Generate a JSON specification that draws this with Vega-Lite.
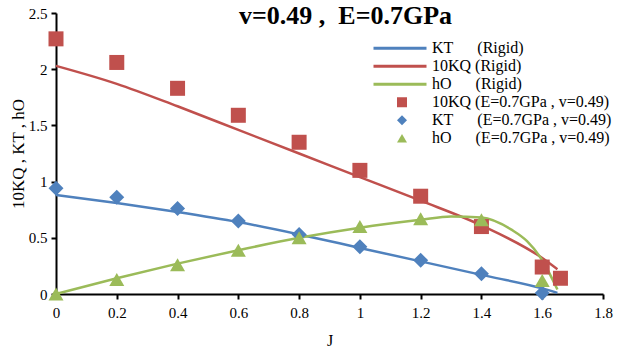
{
  "$schema": "https://vega.github.io/schema/vega-lite/v6.json",
  "width": 547,
  "height": 281,
  "autosize": {"type": "none"},
  "padding": {"left": 56, "top": 13, "right": 16, "bottom": 59},
  "background": "white",
  "config": {
    "font": "Liberation Serif",
    "view": {"stroke": null},
    "axis": {"domainColor": "black", "domainWidth": 2, "tickColor": "black", "tickWidth": 2, "tickSize": 5, "grid": false, "labelFont": "Liberation Serif", "labelFontSize": 15, "labelColor": "black", "titleFont": "Liberation Serif", "titleColor": "black", "titleFontWeight": "normal"},
    "legend": {"labelFont": "Liberation Serif", "labelFontSize": 16, "labelColor": "black", "rowPadding": 1, "padding": 0, "titlePadding": 0, "labelLimit": 400}
  },
  "title": {"text": "v=0.49\u00a0,\u00a0\u00a0E=0.7GPa", "font": "Liberation Serif", "fontSize": 26, "fontWeight": "bold", "color": "black", "anchor": "middle", "dx": 16, "offset": 0, "dy": 49, "baseline": "bottom"},
  "datasets": {
    "rigid": [
      {"J": 0, "v": 0.88, "s": "KT\u00a0\u00a0\u00a0\u00a0\u00a0\u00a0(Rigid)"},
      {"J": 0.2, "v": 0.81, "s": "KT\u00a0\u00a0\u00a0\u00a0\u00a0\u00a0(Rigid)"},
      {"J": 0.4, "v": 0.73, "s": "KT\u00a0\u00a0\u00a0\u00a0\u00a0\u00a0(Rigid)"},
      {"J": 0.6, "v": 0.64, "s": "KT\u00a0\u00a0\u00a0\u00a0\u00a0\u00a0(Rigid)"},
      {"J": 0.8, "v": 0.53, "s": "KT\u00a0\u00a0\u00a0\u00a0\u00a0\u00a0(Rigid)"},
      {"J": 1.0, "v": 0.41, "s": "KT\u00a0\u00a0\u00a0\u00a0\u00a0\u00a0(Rigid)"},
      {"J": 1.2, "v": 0.29, "s": "KT\u00a0\u00a0\u00a0\u00a0\u00a0\u00a0(Rigid)"},
      {"J": 1.4, "v": 0.17, "s": "KT\u00a0\u00a0\u00a0\u00a0\u00a0\u00a0(Rigid)"},
      {"J": 1.6, "v": 0.05, "s": "KT\u00a0\u00a0\u00a0\u00a0\u00a0\u00a0(Rigid)"},
      {"J": 1.65, "v": 0.01, "s": "KT\u00a0\u00a0\u00a0\u00a0\u00a0\u00a0(Rigid)"},
      {"J": 0, "v": 2.03, "s": "10KQ (Rigid)"},
      {"J": 0.2, "v": 1.87, "s": "10KQ (Rigid)"},
      {"J": 0.4, "v": 1.67, "s": "10KQ (Rigid)"},
      {"J": 0.6, "v": 1.46, "s": "10KQ (Rigid)"},
      {"J": 0.8, "v": 1.25, "s": "10KQ (Rigid)"},
      {"J": 1.0, "v": 1.04, "s": "10KQ (Rigid)"},
      {"J": 1.2, "v": 0.83, "s": "10KQ (Rigid)"},
      {"J": 1.4, "v": 0.61, "s": "10KQ (Rigid)"},
      {"J": 1.6, "v": 0.32, "s": "10KQ (Rigid)"},
      {"J": 1.65, "v": 0.22, "s": "10KQ (Rigid)"},
      {"J": 0, "v": 0, "s": "hO\u00a0\u00a0\u00a0\u00a0\u00a0\u00a0(Rigid)"},
      {"J": 0.2, "v": 0.14, "s": "hO\u00a0\u00a0\u00a0\u00a0\u00a0\u00a0(Rigid)"},
      {"J": 0.4, "v": 0.27, "s": "hO\u00a0\u00a0\u00a0\u00a0\u00a0\u00a0(Rigid)"},
      {"J": 0.6, "v": 0.39, "s": "hO\u00a0\u00a0\u00a0\u00a0\u00a0\u00a0(Rigid)"},
      {"J": 0.8, "v": 0.5, "s": "hO\u00a0\u00a0\u00a0\u00a0\u00a0\u00a0(Rigid)"},
      {"J": 1.0, "v": 0.59, "s": "hO\u00a0\u00a0\u00a0\u00a0\u00a0\u00a0(Rigid)"},
      {"J": 1.2, "v": 0.66, "s": "hO\u00a0\u00a0\u00a0\u00a0\u00a0\u00a0(Rigid)"},
      {"J": 1.3, "v": 0.69, "s": "hO\u00a0\u00a0\u00a0\u00a0\u00a0\u00a0(Rigid)"},
      {"J": 1.4, "v": 0.68, "s": "hO\u00a0\u00a0\u00a0\u00a0\u00a0\u00a0(Rigid)"},
      {"J": 1.5, "v": 0.57, "s": "hO\u00a0\u00a0\u00a0\u00a0\u00a0\u00a0(Rigid)"},
      {"J": 1.55, "v": 0.47, "s": "hO\u00a0\u00a0\u00a0\u00a0\u00a0\u00a0(Rigid)"},
      {"J": 1.6, "v": 0.3, "s": "hO\u00a0\u00a0\u00a0\u00a0\u00a0\u00a0(Rigid)"},
      {"J": 1.65, "v": 0.04, "s": "hO\u00a0\u00a0\u00a0\u00a0\u00a0\u00a0(Rigid)"}
    ],
    "elastic": [
      {"J": 0, "v": 2.27, "p": "10KQ (E=0.7GPa , v=0.49)"},
      {"J": 0.2, "v": 2.06, "p": "10KQ (E=0.7GPa , v=0.49)"},
      {"J": 0.4, "v": 1.83, "p": "10KQ (E=0.7GPa , v=0.49)"},
      {"J": 0.6, "v": 1.59, "p": "10KQ (E=0.7GPa , v=0.49)"},
      {"J": 0.8, "v": 1.35, "p": "10KQ (E=0.7GPa , v=0.49)"},
      {"J": 1.0, "v": 1.1, "p": "10KQ (E=0.7GPa , v=0.49)"},
      {"J": 1.2, "v": 0.87, "p": "10KQ (E=0.7GPa , v=0.49)"},
      {"J": 1.4, "v": 0.6, "p": "10KQ (E=0.7GPa , v=0.49)"},
      {"J": 1.6, "v": 0.24, "p": "10KQ (E=0.7GPa , v=0.49)"},
      {"J": 1.66, "v": 0.14, "p": "10KQ (E=0.7GPa , v=0.49)"},
      {"J": 0, "v": 0.94, "p": "KT\u00a0\u00a0\u00a0\u00a0\u00a0\u00a0(E=0.7GPa , v=0.49)"},
      {"J": 0.2, "v": 0.86, "p": "KT\u00a0\u00a0\u00a0\u00a0\u00a0\u00a0(E=0.7GPa , v=0.49)"},
      {"J": 0.4, "v": 0.76, "p": "KT\u00a0\u00a0\u00a0\u00a0\u00a0\u00a0(E=0.7GPa , v=0.49)"},
      {"J": 0.6, "v": 0.65, "p": "KT\u00a0\u00a0\u00a0\u00a0\u00a0\u00a0(E=0.7GPa , v=0.49)"},
      {"J": 0.8, "v": 0.53, "p": "KT\u00a0\u00a0\u00a0\u00a0\u00a0\u00a0(E=0.7GPa , v=0.49)"},
      {"J": 1.0, "v": 0.42, "p": "KT\u00a0\u00a0\u00a0\u00a0\u00a0\u00a0(E=0.7GPa , v=0.49)"},
      {"J": 1.2, "v": 0.3, "p": "KT\u00a0\u00a0\u00a0\u00a0\u00a0\u00a0(E=0.7GPa , v=0.49)"},
      {"J": 1.4, "v": 0.18, "p": "KT\u00a0\u00a0\u00a0\u00a0\u00a0\u00a0(E=0.7GPa , v=0.49)"},
      {"J": 1.6, "v": 0.01, "p": "KT\u00a0\u00a0\u00a0\u00a0\u00a0\u00a0(E=0.7GPa , v=0.49)"},
      {"J": 0, "v": 0, "p": "hO\u00a0\u00a0\u00a0\u00a0\u00a0\u00a0(E=0.7GPa , v=0.49)"},
      {"J": 0.2, "v": 0.13, "p": "hO\u00a0\u00a0\u00a0\u00a0\u00a0\u00a0(E=0.7GPa , v=0.49)"},
      {"J": 0.4, "v": 0.26, "p": "hO\u00a0\u00a0\u00a0\u00a0\u00a0\u00a0(E=0.7GPa , v=0.49)"},
      {"J": 0.6, "v": 0.39, "p": "hO\u00a0\u00a0\u00a0\u00a0\u00a0\u00a0(E=0.7GPa , v=0.49)"},
      {"J": 0.8, "v": 0.5, "p": "hO\u00a0\u00a0\u00a0\u00a0\u00a0\u00a0(E=0.7GPa , v=0.49)"},
      {"J": 1.0, "v": 0.6, "p": "hO\u00a0\u00a0\u00a0\u00a0\u00a0\u00a0(E=0.7GPa , v=0.49)"},
      {"J": 1.2, "v": 0.67, "p": "hO\u00a0\u00a0\u00a0\u00a0\u00a0\u00a0(E=0.7GPa , v=0.49)"},
      {"J": 1.4, "v": 0.66, "p": "hO\u00a0\u00a0\u00a0\u00a0\u00a0\u00a0(E=0.7GPa , v=0.49)"},
      {"J": 1.6, "v": 0.12, "p": "hO\u00a0\u00a0\u00a0\u00a0\u00a0\u00a0(E=0.7GPa , v=0.49)"}
    ]
  },
  "encoding": {
    "x": {"field": "J", "type": "quantitative", "title": "J",
      "scale": {"domain": [0, 1.8], "nice": false, "zero": false},
      "axis": {"values": [0, 0.2, 0.4, 0.6, 0.8, 1, 1.2, 1.4, 1.6, 1.8], "format": "~g", "labelPadding": 6, "titleFontSize": 16, "titlePadding": 12, "labelFlush": false}},
    "y": {"field": "v", "type": "quantitative", "title": "10KQ , KT , hO",
      "scale": {"domain": [0, 2.5], "nice": false},
      "axis": {"values": [0, 0.5, 1, 1.5, 2, 2.5], "format": "~g", "labelPadding": 4, "titleFontSize": 17, "titlePadding": 1, "labelFlush": false}}
  },
  "layer": [
    {
      "data": {"name": "rigid"},
      "mark": {"type": "line", "strokeWidth": 2.5, "interpolate": "monotone"},
      "encoding": {
        "stroke": {"field": "s", "type": "nominal", "title": null,
          "scale": {"domain": ["KT\u00a0\u00a0\u00a0\u00a0\u00a0\u00a0(Rigid)", "10KQ (Rigid)", "hO\u00a0\u00a0\u00a0\u00a0\u00a0\u00a0(Rigid)"], "range": ["#4F81BD", "#C0504D", "#9BBB59"]},
          "legend": {"orient": "none", "legendX": 316, "legendY": 27, "symbolType": "stroke", "symbolSize": 100, "symbolStrokeWidth": 3, "labelOffset": 4, "clipHeight": 16.5,
            "encode": {"symbols": {"update": {"size": {"value": 2809}, "strokeWidth": {"value": 3}}}}}
        }
      }
    },
    {
      "data": {"name": "elastic"},
      "mark": {"type": "point", "filled": true, "opacity": 1, "size": 225},
      "encoding": {
        "fill": {"field": "p", "type": "nominal", "title": null,
          "scale": {"domain": ["10KQ (E=0.7GPa , v=0.49)", "KT\u00a0\u00a0\u00a0\u00a0\u00a0\u00a0(E=0.7GPa , v=0.49)", "hO\u00a0\u00a0\u00a0\u00a0\u00a0\u00a0(E=0.7GPa , v=0.49)"], "range": ["#C0504D", "#4F81BD", "#9BBB59"]},
          "legend": {"orient": "none", "legendX": 338, "legendY": 81, "symbolSize": 100, "labelOffset": 22, "clipHeight": 16.5}
        },
        "shape": {"field": "p", "type": "nominal", "title": null,
          "scale": {"domain": ["10KQ (E=0.7GPa , v=0.49)", "KT\u00a0\u00a0\u00a0\u00a0\u00a0\u00a0(E=0.7GPa , v=0.49)", "hO\u00a0\u00a0\u00a0\u00a0\u00a0\u00a0(E=0.7GPa , v=0.49)"], "range": ["square", "diamond", "triangle-up"]},
          "legend": {"orient": "none", "legendX": 338, "legendY": 81, "symbolSize": 100, "labelOffset": 22, "clipHeight": 16.5}
        }
      }
    }
  ]
}
